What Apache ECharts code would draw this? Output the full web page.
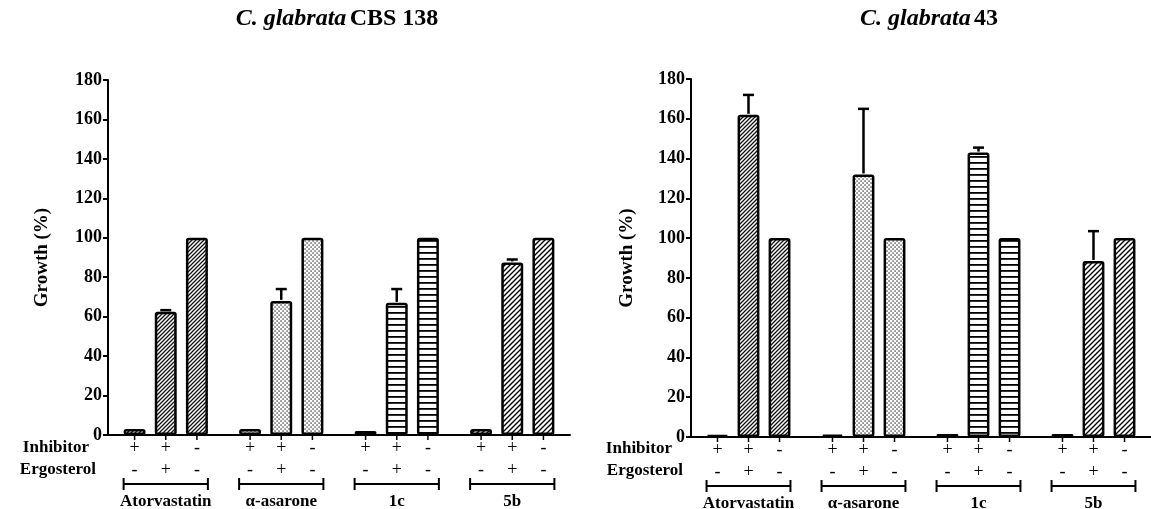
<!DOCTYPE html>
<html>
<head>
<meta charset="utf-8">
<script src="https://cdn.jsdelivr.net/npm/echarts@6/dist/echarts.min.js"></script>
<style>
  html, body { margin: 0; padding: 0; background: #fff; }
  #chart { width: 1151px; height: 509px; }
</style>
</head>
<body>
<div id="chart"></div>
<script>
// ---------------- data ----------------
const categories = ['Atorvastatin', 'α-asarone', '1c', '5b'];
const inhibitorSigns = ['+', '+', '-'];
const ergosterolSigns = ['-', '+', '-'];
const yTickMin = 0, yTickMax = 180, yTickStep = 20;

// C. glabrata CBS 138
const cbsInhibitor = [3, 3, 2, 3];
const cbsInhibErgo = [62.5, 68, 67, 87.5];
const cbsControl = [100, 100, 100, 100];
const cbsInhibErgoErr = [0.8, 6, 7, 1.5];

// C. glabrata 43
const g43Inhibitor = [1, 1.2, 1.5, 1.5];
const g43InhibErgo = [162, 132, 143, 88.5];
const g43Control = [100, 100, 100, 100];
const g43InhibErgoErr = [10, 33, 2.5, 15];

// ---------------- styles ----------------
const FONT = 'Liberation Serif';
const BAR_FRAC = 0.19;   // bar width as fraction of category width
const BAR_GAP = 0.42;    // gap between bars as fraction of bar width

function mkCanvas(w, h) {
  const c = document.createElement('canvas');
  c.width = w; c.height = h;
  const ctx = c.getContext('2d');
  ctx.fillStyle = '#fff';
  ctx.fillRect(0, 0, w, h);
  return [c, ctx];
}
function hatch(s, lw, col) {
  const [c, ctx] = mkCanvas(s, s);
  ctx.strokeStyle = col || '#000';
  ctx.lineWidth = lw;
  ctx.beginPath();
  ctx.moveTo(-1, s + 1); ctx.lineTo(s + 1, -1);
  ctx.moveTo(-s / 2 - 1, s / 2 + 1); ctx.lineTo(s / 2 + 1, -s / 2 - 1);
  ctx.moveTo(s / 2 - 1, s * 1.5 + 1); ctx.lineTo(s * 1.5 + 1, s / 2 - 1);
  ctx.stroke();
  return { image: c, repeat: 'repeat' };
}
function dots() {
  const [c, ctx] = mkCanvas(4, 4);
  ctx.fillStyle = '#222';
  ctx.fillRect(0.4, 0.4, 1.3, 1.3);
  ctx.fillRect(2.4, 2.4, 1.3, 1.3);
  return { image: c, repeat: 'repeat' };
}
function hlines() {
  const [c, ctx] = mkCanvas(6, 6);
  ctx.fillStyle = '#000';
  ctx.fillRect(0, 0, 6, 1.8);
  return { image: c, repeat: 'repeat' };
}
const patterns = [hatch(4, 1.3, '#111'), dots(), hlines(), hatch(5, 1.4)];

// ---------------- layout ----------------
const grids = [
  { left: 108, right: 581, top: 80, bottom: 74 },
  { left: 691, right: -10, top: 79, bottom: 72 }
];

function barSeries(values, gridIdx, name) {
  return {
    type: 'bar', name: name,
    xAxisIndex: gridIdx, yAxisIndex: gridIdx,
    barWidth: (BAR_FRAC * 100) + '%',
    barGap: (BAR_GAP * 100) + '%',
    data: values.map((v, i) => ({
      value: v,
      itemStyle: { color: patterns[i], borderColor: '#000', borderWidth: 2.5, borderRadius: 1.5 }
    })),
    z: 2
  };
}

function stepOf(api) {
  const cw = api.size([1, 0])[0];
  const bw = cw * BAR_FRAC;
  return { bw, step: bw * (1 + BAR_GAP) };
}

function errorSeries(values, errs, pos, gridIdx) {
  return {
    type: 'custom',
    xAxisIndex: gridIdx, yAxisIndex: gridIdx,
    data: values.map((v, i) => [i, v, errs[i], pos]),
    encode: { x: 0, y: 1 },
    z: 5,
    silent: true,
    renderItem: function (params, api) {
      const i = api.value(0), v = api.value(1), e = api.value(2), p = api.value(3);
      const { step } = stepOf(api);
      const a = api.coord([i, v]);
      const b = api.coord([i, v + e]);
      const x = a[0] + (p - 1) * step;
      const st = { stroke: '#000', lineWidth: 2.5 };
      return {
        type: 'group',
        children: [
          { type: 'line', shape: { x1: x, y1: a[1] - 1, x2: x, y2: b[1] }, style: st },
          { type: 'line', shape: { x1: x - 5.5, y1: b[1], x2: x + 5.5, y2: b[1] }, style: st }
        ]
      };
    }
  };
}

function labelSeries(gridIdx) {
  return {
    type: 'custom',
    xAxisIndex: gridIdx, yAxisIndex: gridIdx,
    data: categories.map((c, i) => [i, 0]),
    encode: { x: 0, y: 1 },
    clip: false,
    silent: true,
    z: 5,
    renderItem: function (params, api) {
      const i = api.value(0);
      const base = api.coord([i, 0]);
      const { bw, step } = stepOf(api);
      const y0 = base[1];
      const children = [];
      const txt = (t, x, y, size, weight) => ({
        type: 'text', x: x, y: y,
        style: { text: t, fill: '#000', fontFamily: FONT, fontSize: size, fontWeight: weight || 'bold', align: 'center', verticalAlign: 'middle' }
      });
      for (let k = 0; k < 3; k++) {
        const x = base[0] + (k - 1) * step;
        children.push({ type: 'line', shape: { x1: x, y1: y0, x2: x, y2: y0 + 5 }, style: { stroke: '#000', lineWidth: 1.5 } });
        children.push(txt(inhibitorSigns[k], x, y0 + 13, 18, 'normal'));
        children.push(txt(ergosterolSigns[k], x, y0 + 35, 18, 'normal'));
      }
      const x1 = base[0] - step - bw / 2, x2 = base[0] + step + bw / 2;
      const by = y0 + 49;
      const ls = { stroke: '#000', lineWidth: 2 };
      children.push({ type: 'line', shape: { x1: x1, y1: by, x2: x2, y2: by }, style: ls });
      children.push({ type: 'line', shape: { x1: x1, y1: by - 6, x2: x1, y2: by + 6 }, style: ls });
      children.push({ type: 'line', shape: { x1: x2, y1: by - 6, x2: x2, y2: by + 6 }, style: ls });
      children.push(txt(categories[i], base[0], y0 + 67, 17, 'bold'));
      return { type: 'group', children: children };
    }
  };
}

function xAxisOf(gridIdx) {
  return {
    type: 'category', gridIndex: gridIdx, data: categories,
    axisLine: { lineStyle: { color: '#000', width: 2 } },
    axisTick: { show: false }, axisLabel: { show: false }
  };
}
function yAxisOf(gridIdx, gap) {
  return {
    type: 'value', gridIndex: gridIdx, min: yTickMin, max: yTickMax, interval: yTickStep,
    name: 'Growth (%)', nameLocation: 'middle', nameGap: gap, nameRotate: 90,
    nameTextStyle: { color: '#000', fontFamily: FONT, fontWeight: 'bold', fontSize: 19 },
    axisLine: { show: true, lineStyle: { color: '#000', width: 2 } },
    axisTick: { show: true, length: 5, lineStyle: { color: '#000', width: 2 } },
    axisLabel: { color: '#000', fontFamily: FONT, fontWeight: 'bold', fontSize: 18, margin: 6 },
    splitLine: { show: false }
  };
}

const titleRich = {
  i: { fontFamily: FONT, fontStyle: 'italic', fontWeight: 'bold', fontSize: 24, fill: '#000' },
  b: { fontFamily: FONT, fontWeight: 'bold', fontSize: 24, fill: '#000' }
};
function gtext(t, x, y, align) {
  return { type: 'text', x: x, y: y, style: { text: t, fill: '#000', fontFamily: FONT, fontWeight: 'bold', fontSize: 17, align: align || 'right', verticalAlign: 'middle' } };
}

const option = {
  backgroundColor: '#fff',
  animation: false,
  grid: grids,
  xAxis: [xAxisOf(0), xAxisOf(1)],
  yAxis: [yAxisOf(0, 56), yAxisOf(1, 54)],
  graphic: [
    { type: 'text', x: 337, y: 19, style: { text: '{i|C. glabrata} {b|CBS 138}', rich: titleRich, align: 'center', verticalAlign: 'middle' } },
    { type: 'text', x: 929, y: 19, style: { text: '{i|C. glabrata} {b|43}', rich: titleRich, align: 'center', verticalAlign: 'middle' } },
    gtext('Inhibitor', 89, 448),
    gtext('Ergosterol', 96, 470),
    gtext('Inhibitor', 672, 449),
    gtext('Ergosterol', 683, 471)
  ],
  series: [
    barSeries(cbsInhibitor, 0, 'Inhibitor'),
    barSeries(cbsInhibErgo, 0, 'Inhibitor + Ergosterol'),
    barSeries(cbsControl, 0, 'Control'),
    errorSeries(cbsInhibErgo, cbsInhibErgoErr, 1, 0),
    labelSeries(0),
    barSeries(g43Inhibitor, 1, 'Inhibitor'),
    barSeries(g43InhibErgo, 1, 'Inhibitor + Ergosterol'),
    barSeries(g43Control, 1, 'Control'),
    errorSeries(g43InhibErgo, g43InhibErgoErr, 1, 1),
    labelSeries(1)
  ]
};

const chart = echarts.init(document.getElementById('chart'), null, { renderer: 'canvas' });
chart.setOption(option);
</script>
</body>
</html>
